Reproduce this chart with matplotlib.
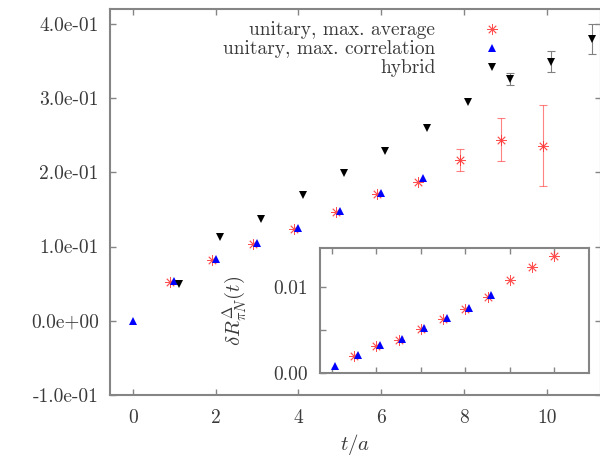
import matplotlib
matplotlib.use('Agg')
import matplotlib.pyplot as plt
import numpy as np

plt.rcParams['font.family'] = ['cmr10', 'DejaVu Serif']
plt.rcParams['mathtext.fontset'] = 'cm'
plt.rcParams['axes.unicode_minus'] = False

# main panel: unitary (max. average), unitary (max. correlation), hybrid
t_avg = [1, 2, 3, 4, 5, 6, 7, 8, 9, 10]
r_avg = [0.0525, 0.082, 0.104, 0.124, 0.147, 0.171, 0.187, 0.217, 0.244, 0.236]
e_avg = [0.0, 0.0, 0.0, 0.0, 0.0, 0.0, 0.0, 0.015, 0.029, 0.054]

t_cor = [0, 1, 2, 3, 4, 5, 6, 7]
r_cor = [0.0, 0.053, 0.083, 0.105, 0.125, 0.148, 0.172, 0.192]

t_hyb = [1, 2, 3, 4, 5, 6, 7, 8, 9, 10, 11]
r_hyb = [0.050, 0.113, 0.137, 0.170, 0.199, 0.229, 0.260, 0.295, 0.326, 0.349, 0.380]
e_hyb = [0.0, 0.0, 0.0, 0.0, 0.0, 0.0, 0.0, 0.0, 0.008, 0.014, 0.020]

# inset: delta R
ti_avg = [1, 2, 3, 4, 5, 6, 7, 8, 9, 10]
ri_avg = [0.0020, 0.0031, 0.0038, 0.0051, 0.0063, 0.0074, 0.0088, 0.0108, 0.0123, 0.0136]
ti_cor = [0, 1, 2, 3, 4, 5, 6, 7]
ri_cor = [0.0008, 0.0021, 0.0032, 0.0039, 0.0052, 0.0064, 0.0075, 0.0091]

yticks = [-0.1, 0.0, 0.1, 0.2, 0.3, 0.4]
ylabels = ['-1.0e-01', '0.0e+00', '1.0e-01', '2.0e-01', '3.0e-01', '4.0e-01']

frame = '#858585'
txt = '#3a3a3a'
red = '#ff3030'
blue = '#0000ff'

fig = plt.figure(figsize=(6, 4.57), dpi=100)
ax = fig.add_axes([0.1833, 0.1357, 0.8183, 0.8446])

star = (8, 2, 0)

# only points with a visible error get a bar
xa = np.array(t_avg) - 0.1
ea = np.array(e_avg)
ma = ea > 0
ax.errorbar(xa[ma], np.array(r_avg)[ma], yerr=ea[ma], fmt='none', ecolor=red,
            elinewidth=0.8, capsize=3, capthick=0.8, alpha=0.6)
ax.plot(xa, r_avg, ls='none', marker=star, ms=7.5, mew=0.6,
        color=red, alpha=0.85, label='unitary, max. average')
ax.plot(t_cor, r_cor, ls='none', marker='^', ms=6, color=blue, mew=0,
        label='unitary, max. correlation')

xh = np.array(t_hyb) + 0.1
eh = np.array(e_hyb)
mh = eh > 0
ax.errorbar(xh[mh], np.array(r_hyb)[mh], yerr=eh[mh], fmt='none', ecolor='#808080',
            elinewidth=0.8, capsize=3, capthick=0.8)
ax.plot(xh, r_hyb, ls='none', marker='v', ms=6, color='black',
        mew=0, label='hybrid')

ax.set_xlim(-0.556, 11.31)
ax.set_ylim(-0.1, 0.42)
ax.set_xticks([0, 2, 4, 6, 8, 10])
ax.set_yticks(yticks)
ax.set_yticklabels(ylabels)
ax.tick_params(direction='in', length=4, width=1, color=frame, labelcolor=txt,
               labelsize=14, top=True, right=True, pad=8)
ax.tick_params(axis='x', pad=10)
for s in ax.spines.values():
    s.set_color(frame)
    s.set_linewidth(1.5)
ax.set_xlabel('$t/a$', fontsize=15, color=txt, labelpad=4)

leg = ax.legend(loc='upper right', bbox_to_anchor=(0.833, 1.013), frameon=False,
                markerfirst=False, handlelength=1.0, handletextpad=2.4,
                labelspacing=0.05, fontsize=14, numpoints=1)
for t in leg.get_texts():
    t.set_color(txt)
    t.set_ha('right')

# inset
ins = fig.add_axes([0.5333, 0.1838, 0.4483, 0.2735])
ins.plot(ti_avg, ri_avg, ls='none', marker=star, ms=7.5, mew=0.6, color=red, alpha=0.85)
ins.plot(np.array(ti_cor) + 0.15, ri_cor, ls='none', marker='^', ms=6, color=blue, mew=0)
ins.set_xlim(-0.54, 11.55)
ins.set_ylim(0, 0.01453)
ins.set_xticks([0, 2, 4, 6, 8, 10])
ins.set_xticklabels([])
ins.set_yticks([0.0, 0.005, 0.01])
ins.set_yticklabels(['0.00', '', '0.01'])
ins.tick_params(direction='in', length=4, width=1, color=frame, labelcolor=txt,
                labelsize=14, top=True, right=False, pad=8.5)
for s in ins.spines.values():
    s.set_color(frame)
    s.set_linewidth(1.5)
ins.set_ylabel(r'$\delta R^{\Delta}_{\pi N}(t)$', fontsize=15, color=txt, labelpad=18)

fig.savefig('out.png', dpi=100)
